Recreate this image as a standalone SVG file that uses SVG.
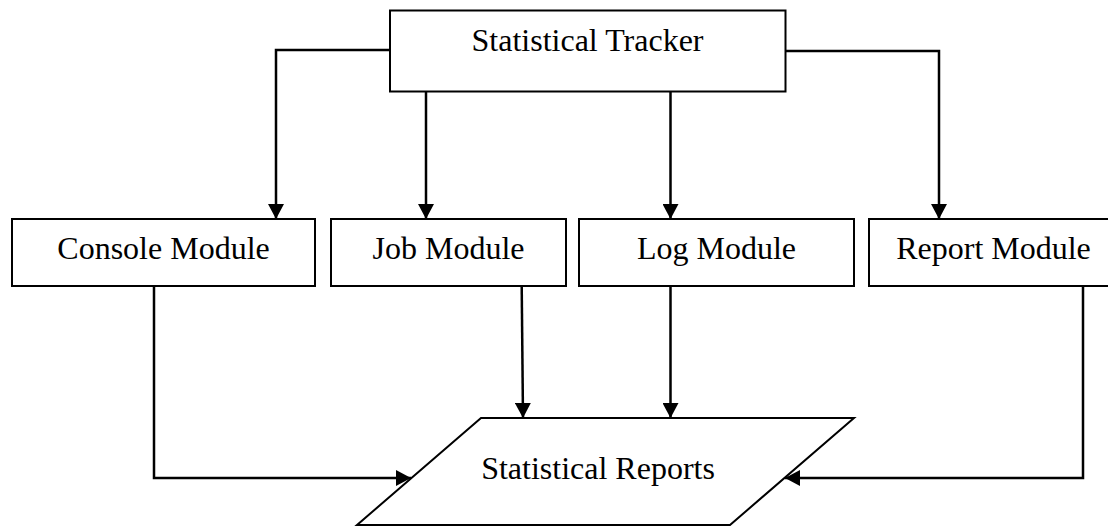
<svg xmlns="http://www.w3.org/2000/svg" width="1108" height="527" viewBox="0 0 1108 527">
<style>
.box{fill:#fff;stroke:#000;stroke-width:2}
.lbl{font-family:"Liberation Serif","Times New Roman",serif;font-size:32px;fill:#000;text-anchor:middle}
.con{fill:none;stroke:#000;stroke-width:2.5}
</style>
<defs>
<marker id="arr" markerUnits="userSpaceOnUse" markerWidth="15" markerHeight="16" viewBox="0 0 15 16" refX="15" refY="8" orient="auto">
<path d="M0,0 L15,8 L0,16 Z" fill="#000"/>
</marker>
</defs>
<rect width="1108" height="527" fill="#fff"/>
<g id="connectors">
<path class="con" d="M390,50 H276 V219" marker-end="url(#arr)"/>
<path class="con" d="M426,92 V219" marker-end="url(#arr)"/>
<path class="con" d="M670.5,92 V219" marker-end="url(#arr)"/>
<path class="con" d="M785,51 H939 V219" marker-end="url(#arr)"/>
<path class="con" d="M154,286 V478 H411" marker-end="url(#arr)"/>
<path class="con" d="M521.7,286 L523,418" marker-end="url(#arr)"/>
<path class="con" d="M670.5,286 V418" marker-end="url(#arr)"/>
<path class="con" d="M1083,286 V478 H785" marker-end="url(#arr)"/>
</g>
<g id="tracker">
<rect class="box" x="390" y="10.5" width="395.5" height="81"/>
<text class="lbl" x="587.5" y="51">Statistical Tracker</text>
</g>
<g id="console">
<rect class="box" x="12" y="219" width="303" height="67"/>
<text class="lbl" x="163.5" y="259">Console Module</text>
</g>
<g id="job">
<rect class="box" x="331" y="219" width="235" height="67"/>
<text class="lbl" x="448.5" y="259">Job Module</text>
</g>
<g id="log">
<rect class="box" x="579" y="219" width="275" height="67"/>
<text class="lbl" x="716.5" y="259">Log Module</text>
</g>
<g id="report">
<rect class="box" x="869" y="219" width="240" height="67"/>
<text class="lbl" x="993.5" y="259">Report Module</text>
</g>
<g id="reports">
<polygon class="box" points="481,418 854,418 730,525 357,525"/>
<text class="lbl" x="598" y="479">Statistical Reports</text>
</g>
</svg>
